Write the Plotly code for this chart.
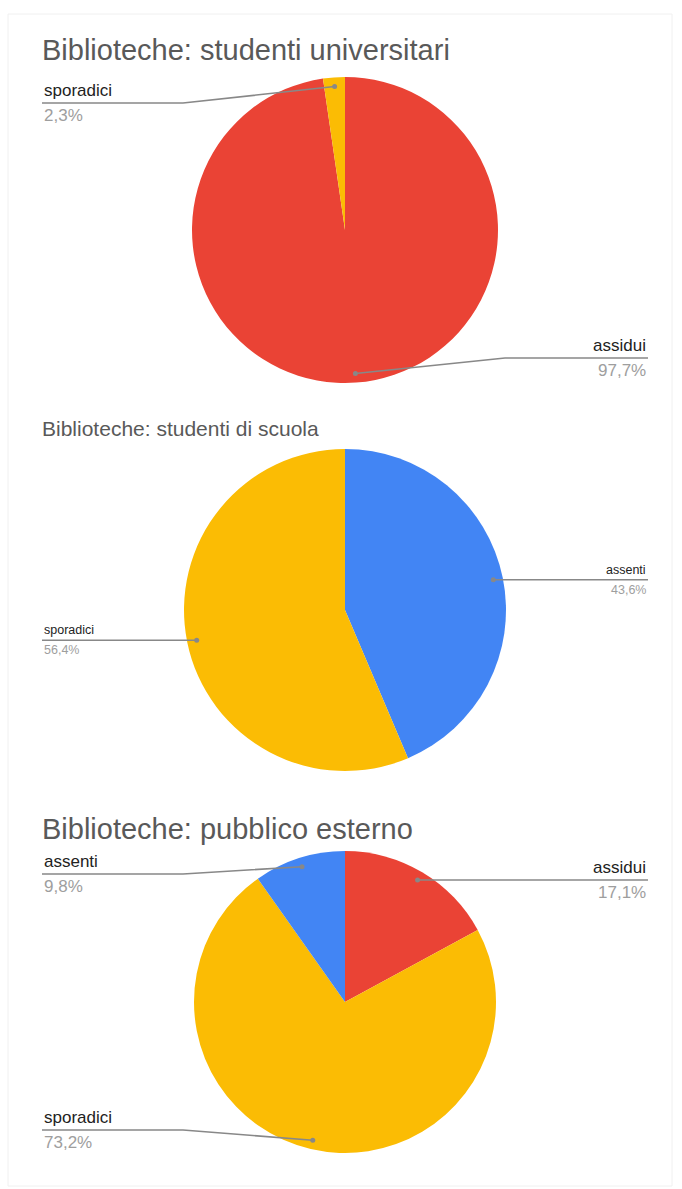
import math
import plotly.graph_objects as go

W, H = 682, 1189

# data
titles = ["Biblioteche: studenti universitari",
          "Biblioteche: studenti di scuola",
          "Biblioteche: pubblico esterno"]
labels_univ = ["assidui", "sporadici"]
values_univ = [97.7, 2.3]
labels_scuola = ["assenti", "sporadici"]
values_scuola = [43.6, 56.4]
labels_pubblico = ["assidui", "sporadici", "assenti"]
values_pubblico = [17.1, 73.2, 9.8]

colors = {"assidui": "#EA4335", "sporadici": "#FBBC04", "assenti": "#4285F4"}

FONT = "Arial, Liberation Sans, sans-serif"

# layout of each panel (pixels)
panels = [
    dict(labels=labels_univ, values=values_univ, cx=345, cy=230, r=153,
         title_y=50, title_size=29, lab_size=17, line_y={"sporadici": 103, "assidui": 358}),
    dict(labels=labels_scuola, values=values_scuola, cx=345, cy=610, r=161,
         title_y=429, title_size=21, lab_size=12.5, line_y={}),
    dict(labels=labels_pubblico, values=values_pubblico, cx=345, cy=1002, r=151,
         title_y=829, title_size=29, lab_size=17, line_y={"assenti": 874, "sporadici": 1130}),
]

LEFT_X, RIGHT_X = 42, 648
LEFT_ELBOW, RIGHT_ELBOW = 183, 505


def px(x):
    return x / W


def py(y):
    return 1 - y / H


fig = go.Figure()
shapes = []
annotations = []

for title, p in zip(titles, panels):
    cx, cy, r = p["cx"], p["cy"], p["r"]
    fig.add_trace(go.Pie(
        labels=p["labels"], values=p["values"],
        marker=dict(colors=[colors[l] for l in p["labels"]], line=dict(width=0)),
        sort=False, direction="clockwise", rotation=0,
        textinfo="none", hoverinfo="skip", showlegend=False,
        domain=dict(x=[px(cx - r), px(cx + r)], y=[py(cy + r), py(cy - r)]),
    ))
    annotations.append(dict(
        x=px(LEFT_X - 2), y=py(p["title_y"]), xref="paper", yref="paper",
        text=title, showarrow=False, xanchor="left", yanchor="middle",
        font=dict(family=FONT, size=p["title_size"], color="#595959")))

    total = sum(p["values"])
    start = 0.0
    for lab, v in zip(p["labels"], p["values"]):
        frac = v / total
        mid = (start + frac / 2) * 2 * math.pi
        start += frac
        rd = 0.94 * r
        dx = cx + rd * math.sin(mid)
        dy = cy - rd * math.cos(mid)
        left = math.sin(mid) < 0
        ly = p["line_y"].get(lab, dy)
        tx = LEFT_X if left else RIGHT_X
        ex = LEFT_ELBOW if left else RIGHT_ELBOW
        path = f"M {px(tx)},{py(ly)} L {px(ex)},{py(ly)} L {px(dx)},{py(dy)}"
        shapes.append(dict(type="path", path=path, xref="paper", yref="paper",
                           line=dict(color="#888888", width=1.6)))
        dr = 2.5
        shapes.append(dict(type="circle", xref="paper", yref="paper",
                           x0=px(dx - dr), x1=px(dx + dr), y0=py(dy + dr), y1=py(dy - dr),
                           fillcolor="#888888", line=dict(width=0)))
        anchor = "left" if left else "right"
        annotations.append(dict(
            x=px(tx), y=py(ly - 1), xref="paper", yref="paper", text=lab,
            showarrow=False, xanchor=anchor, yanchor="bottom",
            font=dict(family=FONT, size=p["lab_size"], color="#222222")))
        pct = f"{v:.1f}".replace(".", ",") + "%"
        annotations.append(dict(
            x=px(tx), y=py(ly + 1), xref="paper", yref="paper", text=pct,
            showarrow=False, xanchor=anchor, yanchor="top",
            font=dict(family=FONT, size=p["lab_size"], color="#9e9e9e")))

# faint frame of the screenshot
shapes.append(dict(type="rect", xref="paper", yref="paper",
                   x0=px(8), x1=px(672), y0=py(1186), y1=py(14),
                   line=dict(color="#f0f0f0", width=1)))

fig.update_layout(
    width=W, height=H,
    margin=dict(l=0, r=0, t=0, b=0),
    paper_bgcolor="white", plot_bgcolor="white",
    shapes=shapes, annotations=annotations,
)

fig.write_html("out.html", config={"displayModeBar": False},
               post_script="document.body.style.margin='0';")
